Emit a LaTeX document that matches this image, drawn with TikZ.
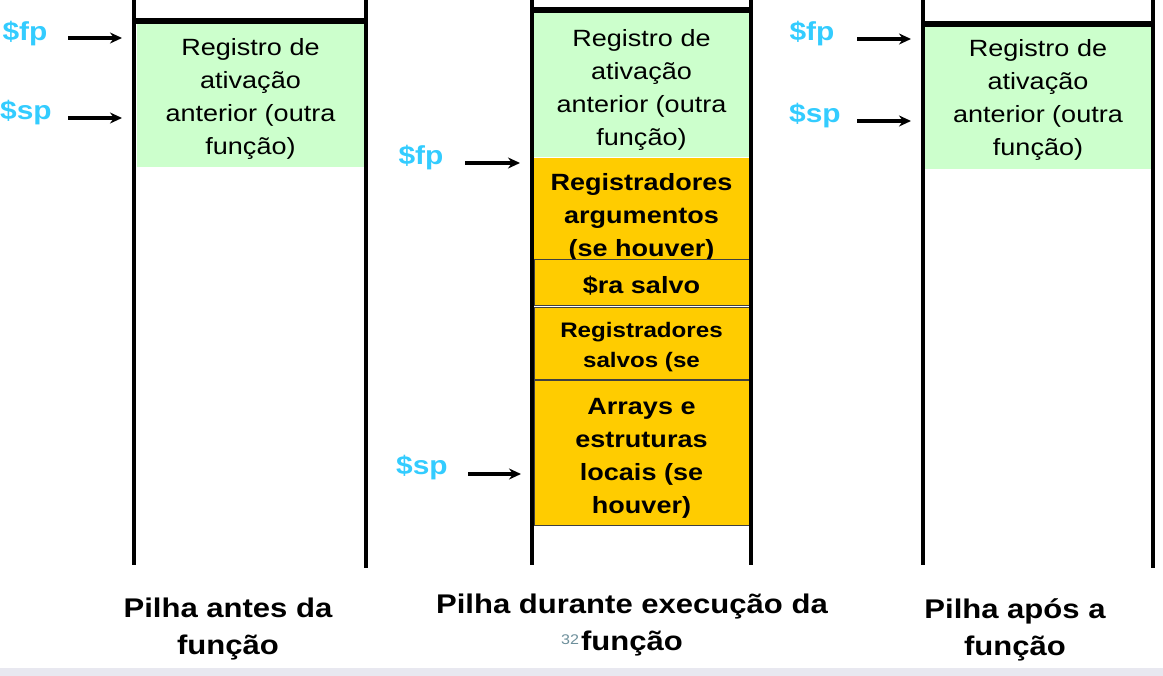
\documentclass[tikz,border=0pt]{standalone}
\usepackage{fontspec}
\setmainfont{Liberation Sans}[FakeStretch=1.15]
\usetikzlibrary{arrows.meta}

\definecolor{ptrcyan}{HTML}{33CCFF}
\definecolor{oldgreen}{HTML}{CCFFCC}
\definecolor{frameorange}{HTML}{FFCC00}
\definecolor{footgray}{HTML}{E8E8F0}
\definecolor{pagenum}{HTML}{6D8F9B}

\tikzset{
	stackline/.style={line width=3.6pt},
	topline/.style={line width=6pt},
	oldframe/.style={fill=oldgreen, minimum width=227pt, inner sep=0pt},
	newframe/.style={fill=frameorange, draw=black!75, line width=1pt, minimum width=215pt, inner sep=0pt},
	oldtext/.style={align=center, font=\fontsize{23.5}{33}\selectfont},
	newtext/.style={align=center, font=\fontsize{23.5}{33}\selectfont\bfseries},
	ptr/.style={text=ptrcyan, font=\fontsize{26}{30}\selectfont\bfseries},
	ptrarrow/.style={-{Stealth[length=12pt,width=11pt]}, line width=3.2pt},
	caption/.style={align=center, font=\fontsize{27}{37}\selectfont\bfseries},
}

\begin{document}
\begin{tikzpicture}[x=1pt,y=-1pt]
	\useasboundingbox (0,0) rectangle (1163,676);
	\fill[footgray] (0,668) rectangle (1163,676);

	% pilha antes da funcao
	\node[oldframe, minimum height=144pt] (oldA) at (250.5,95) {};
	\node[oldtext] (oldAtext) at ([yshift=-4pt]oldA.center) {Registro de\\ativação\\anterior (outra\\função)};
	\draw[stackline] (134,0) -- (134,565);
	\draw[stackline] (366,0) -- (366,568);
	\draw[topline] (132,21.5) -- (368,21.5);
	\node[ptr] (fpA) at (25,34) {\$fp};
	\node[ptr] (spA) at (26,113) {\$sp};
	\coordinate (fpAtail) at (68,38);
	\coordinate (fpAtip) at (122,38);
	\coordinate (spAtail) at (68,118);
	\coordinate (spAtip) at (122,118);
	\draw[ptrarrow] (fpAtail) -- (fpAtip);
	\draw[ptrarrow] (spAtail) -- (spAtip);
	\node[caption] (capA) at (228,629) {Pilha antes da\\função};

	% pilha durante a execucao
	\node[oldframe, minimum width=217pt, minimum height=144pt] (oldB) at (641.5,85) {};
	\node[oldtext] (oldBtext) at ([yshift=-5pt]oldB.center) {Registro de\\ativação\\anterior (outra\\função)};
	\node[newframe, draw=none, minimum height=101pt] (args) at (641.5,208.5) {};
	\node[newtext] (argstext) at ([yshift=-9pt]args.center) {Registradores\\argumentos\\(se houver)};
	\node[newframe, minimum height=46pt] (ra) at (641.5,283) {};
	\node[newtext] (ratext) at ([yshift=-3pt]ra.center) {\$ra salvo};
	\node[newframe, minimum height=72pt] (saved) at (641.5,344) {};
	\node[newtext, font=\fontsize{21}{30}\selectfont\bfseries] (savedtext) at ([yshift=-3pt]saved.center) {Registradores\\salvos (se};
	\node[newframe, minimum height=144pt] (locals) at (641.5,453) {};
	\node[newtext] (localstext) at ([yshift=-5pt]locals.center) {Arrays e\\estruturas\\locais (se\\houver)};
	\draw[stackline] (532,0) -- (532,565);
	\draw[stackline] (751,0) -- (751,565);
	\draw[topline] (530,10) -- (753,10);
	\node[ptr] (fpB) at (421,158) {\$fp};
	\node[ptr] (spB) at (422,468) {\$sp};
	\coordinate (fpBtail) at (465,163);
	\coordinate (fpBtip) at (520,163);
	\coordinate (spBtail) at (468,474);
	\coordinate (spBtip) at (521,474);
	\draw[ptrarrow] (fpBtail) -- (fpBtip);
	\draw[ptrarrow] (spBtail) -- (spBtip);
	\node[caption] (capB) at (632,625) {Pilha durante execução da\\função};
	\node[text=pagenum, font=\fontsize{14}{16}\selectfont, inner sep=0pt] (pageno) at (570,640) {32};

	% pilha apos a funcao
	\node[oldframe, minimum height=144pt] (oldC) at (1038,97) {};
	\node[oldtext] (oldCtext) at ([yshift=-3pt]oldC.center) {Registro de\\ativação\\anterior (outra\\função)};
	\draw[stackline] (923,0) -- (923,565);
	\draw[stackline] (1153,0) -- (1153,568);
	\draw[topline] (921,24) -- (1155,24);
	\node[ptr] (fpC) at (812,34) {\$fp};
	\node[ptr] (spC) at (815,116) {\$sp};
	\coordinate (fpCtail) at (857,39);
	\coordinate (fpCtip) at (911,39);
	\coordinate (spCtail) at (857,121);
	\coordinate (spCtip) at (911,121);
	\draw[ptrarrow] (fpCtail) -- (fpCtip);
	\draw[ptrarrow] (spCtail) -- (spCtip);
	\node[caption] (capC) at (1015,630) {Pilha após a\\função};
\end{tikzpicture}
\end{document}
